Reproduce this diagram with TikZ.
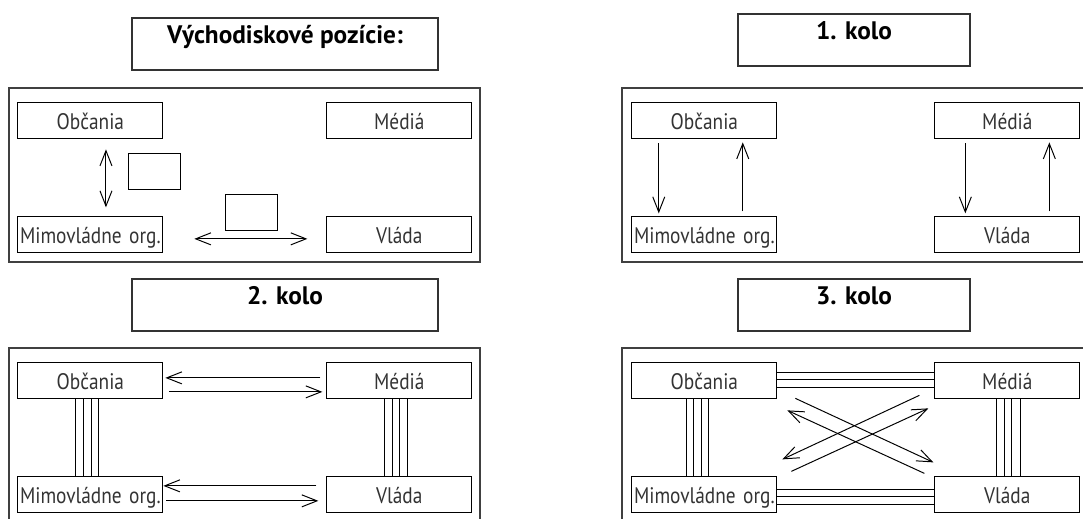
\documentclass[tikz,border=0pt]{standalone}
\usepackage{fontspec}
\setmainfont{PT Sans}
\newfontfamily\actorfont[FakeStretch=0.86]{PT Sans}
\usetikzlibrary{positioning, arrows.meta, calc}

\begin{document}
\begin{tikzpicture}[
  font=\fontsize{14}{16}\selectfont,
  line width=0.7pt,
  panel/.style={
    rectangle, draw=black!75, line width=0.9pt,
    minimum width=117.75mm, minimum height=43.5mm
  },
  headline/.style={
    rectangle, draw=black!80, line width=0.8pt, inner sep=0pt,
    font=\fontsize{18}{20}\selectfont\bfseries,
    text height=6.25mm, text depth=6.75mm
  },
  actor/.style={
    rectangle, draw=black, inner sep=0pt, text=black!80,
    font=\actorfont\fontsize{16}{18}\selectfont,
    text width=36.25mm, align=center, text height=6.75mm, text depth=2.25mm
  },
  blank/.style={rectangle, draw=black, minimum width=13mm, minimum height=9mm},
  >={Straight Barb[length=3.8mm, width=3mm]}
]
\useasboundingbox (0,0) rectangle (270.75mm,-129.5mm);
\node[panel] (frameA) at (61.125mm,-43.75mm) {};
\node[panel, minimum width=118mm] (frameB) at (214.5mm,-43.75mm) {};
\node[panel] (frameC) at (61.125mm,-108.75mm) {};
\node[panel, minimum width=118mm] (frameD) at (214.5mm,-108.75mm) {};
\node[headline, minimum width=76.5mm] (titleA) at (71.25mm,-11mm) {Východiskové pozície:};
\node[headline, minimum width=58mm] (titleB) at (213.5mm,-10mm) {1. kolo};
\node[headline, minimum width=76.5mm] (titleC) at (71.25mm,-76.25mm) {2. kolo};
\node[headline, minimum width=58mm] (titleD) at (213.5mm,-76.25mm) {3. kolo};
\node[actor, below right=3.75mm and 2.25mm of frameA.north west] (obA) {Občania};
\node[actor, below=19.25mm of obA] (mvA) {Mimovládne~org.};
\node[actor, right=40.75mm of obA] (meA) {Médiá};
\node[actor, below=19.25mm of meA] (vlA) {Vláda};
\node[blank] (boxA1) at (38.625mm,-42.75mm) {};
\node[blank] (boxA2) at (62.75mm,-53mm) {};
\node[actor, below right=3.75mm and 2.5mm of frameB.north west] (obB) {Občania};
\node[actor, below=19.25mm of obB] (mvB) {Mimovládne~org.};
\node[actor, right=39.25mm of obB] (meB) {Médiá};
\node[actor, below=19.25mm of meB] (vlB) {Vláda};
\node[actor, below right=3.75mm and 2.25mm of frameC.north west] (obC) {Občania};
\node[actor, below=19.25mm of obC] (mvC) {Mimovládne~org.};
\node[actor, right=40.75mm of obC] (meC) {Médiá};
\node[actor, below=19.25mm of meC] (vlC) {Vláda};
\node[actor, below right=3.75mm and 2.5mm of frameD.north west] (obD) {Občania};
\node[actor, below=19.25mm of obD] (mvD) {Mimovládne~org.};
\node[actor, right=39.25mm of obD] (meD) {Médiá};
\node[actor, below=19.25mm of meD] (vlD) {Vláda};
\draw[<->] ($(obA.south)+(3.9mm,-2.5mm)$) -- ($(mvA.north)+(3.9mm,2.25mm)$);
\draw[<->] ($(mvA.east)+(7.75mm,-1mm)$) -- ($(vlA.west)+(-4.75mm,-1mm)$);
\draw[->] ($(obB.south)+(-11.4mm,-1mm)$) -- ($(mvB.north)+(-11.4mm,0.75mm)$);
\draw[->] ($(mvB.north)+(9.6mm,1.25mm)$) -- ($(obB.south)+(9.6mm,-0.75mm)$);
\draw[->] ($(meB.south)+(-10.5mm,-1mm)$) -- ($(vlB.north)+(-10.5mm,0.75mm)$);
\draw[->] ($(vlB.north)+(10.5mm,1.25mm)$) -- ($(meB.south)+(10.5mm,-0.75mm)$);
\draw[->] ($(meC.west)+(-1.5mm,0.75mm)$) -- ($(obC.east)+(0.5mm,0.75mm)$);
\draw[->] ($(obC.east)+(1.5mm,-2.75mm)$) -- ($(meC.west)+(-1mm,-2.75mm)$);
\draw[->] ($(vlC.west)+(-2.5mm,2.25mm)$) -- ($(mvC.east)+(0mm,2.25mm)$);
\draw[->] ($(mvC.east)+(0.75mm,-1.5mm)$) -- ($(vlC.west)+(-2mm,-1.5mm)$);
\draw ($(obC.south)+(-3.6mm,0)$) -- ($(mvC.north)+(-3.6mm,0)$)
      ($(obC.south)+(-1.75mm,0)$) -- ($(mvC.north)+(-1.75mm,0)$)
      ($(obC.south)+(0.25mm,0)$) -- ($(mvC.north)+(0.25mm,0)$)
      ($(obC.south)+(2.1mm,0)$) -- ($(mvC.north)+(2.1mm,0)$);
\draw ($(meC.south)+(-3.6mm,0)$) -- ($(vlC.north)+(-3.6mm,0)$)
      ($(meC.south)+(-1.6mm,0)$) -- ($(vlC.north)+(-1.6mm,0)$)
      ($(meC.south)+(0.1mm,0)$) -- ($(vlC.north)+(0.1mm,0)$)
      ($(meC.south)+(2.1mm,0)$) -- ($(vlC.north)+(2.1mm,0)$);
\draw ($(obD.east)+(0,2.1mm)$) -- ($(meD.west)+(0,2.1mm)$)
      ($(obD.east)+(0,0.35mm)$) -- ($(meD.west)+(0,0.35mm)$)
      ($(obD.east)+(0,-1.6mm)$) -- ($(meD.west)+(0,-1.6mm)$);
\draw ($(mvD.east)+(0,1.25mm)$) -- ($(vlD.west)+(0,1.25mm)$)
      ($(mvD.east)+(0,-0.45mm)$) -- ($(vlD.west)+(0,-0.45mm)$)
      ($(mvD.east)+(0,-2.35mm)$) -- ($(vlD.west)+(0,-2.35mm)$);
\draw ($(obD.south)+(-4.45mm,0)$) -- ($(mvD.north)+(-4.45mm,0)$)
      ($(obD.south)+(-2.8mm,0)$) -- ($(mvD.north)+(-2.8mm,0)$)
      ($(obD.south)+(-0.7mm,0)$) -- ($(mvD.north)+(-0.7mm,0)$)
      ($(obD.south)+(1.1mm,0)$) -- ($(mvD.north)+(1.1mm,0)$);
\draw ($(meD.south)+(-2.8mm,0)$) -- ($(vlD.north)+(-2.8mm,0)$)
      ($(meD.south)+(-0.7mm,0)$) -- ($(vlD.north)+(-0.7mm,0)$)
      ($(meD.south)+(1.1mm,0)$) -- ($(vlD.north)+(1.1mm,0)$)
      ($(meD.south)+(3.2mm,0)$) -- ($(vlD.north)+(3.2mm,0)$);
\draw[->] ($(obD.south east)+(4.5mm,0.25mm)$) -- ($(vlD.north west)+(-0.25mm,3.5mm)$);
\draw[->] ($(vlD.north west)+(-2.5mm,0.75mm)$) -- ($(obD.south east)+(2.5mm,-2.75mm)$);
\draw[->] ($(meD.south west)+(-3.75mm,1mm)$) -- ($(mvD.north east)+(1.25mm,4.25mm)$);
\draw[->] ($(mvD.north east)+(3.5mm,1.25mm)$) -- ($(meD.south west)+(-1.5mm,-2.25mm)$);
\end{tikzpicture}
\end{document}
